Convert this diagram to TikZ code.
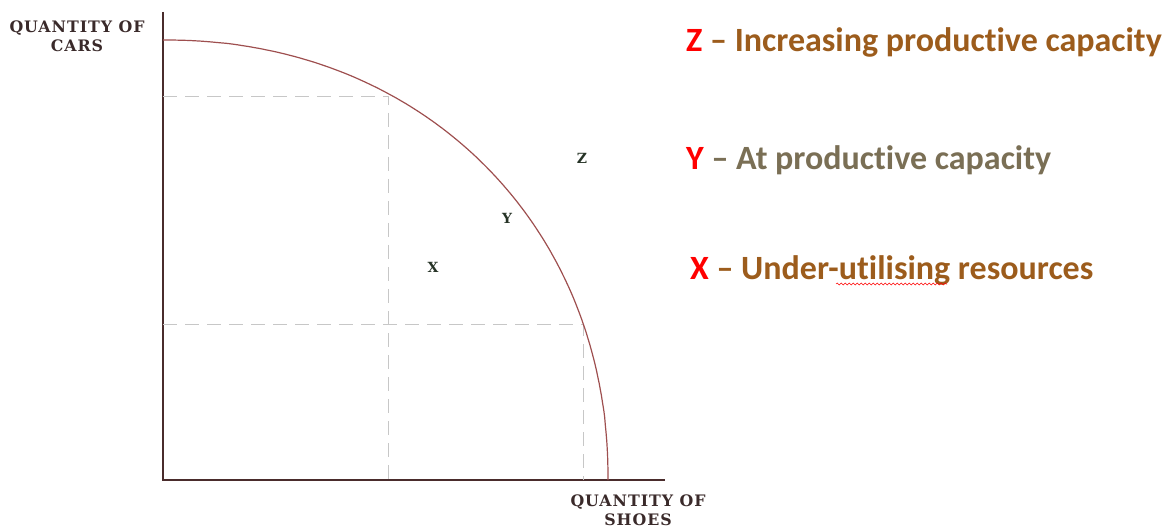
\documentclass[tikz,border=0pt]{standalone}
\usepackage{fontspec}
\newfontfamily\calibri[RawFeature={-liga}]{Carlito}
\newfontfamily\axfont[LetterSpace=6]{DejaVu Serif}
\usetikzlibrary{decorations.pathmorphing}
\definecolor{axiscol}{HTML}{4A2C2C}
\definecolor{curvecol}{HTML}{9E4F4F}
\definecolor{brownt}{HTML}{9C5C1C}
\definecolor{greyt}{HTML}{7A6F55}
\definecolor{redt}{HTML}{FF0000}
\definecolor{lbl}{HTML}{3A2A2A}
\definecolor{ptcol}{HTML}{263326}
\begin{document}
\begin{tikzpicture}[x=1pt,y=-1pt,
  axis/.style={draw=axiscol,line width=1.8pt},
  ppf/.style={draw=curvecol,line width=1.2pt},
  guide/.style={draw=black!22,line width=0.9pt,dash pattern=on 14pt off 8pt},
  axlabel/.style={font=\axfont\fontsize{15.8}{19}\selectfont\bfseries,text=lbl,align=center,inner sep=0pt},
  ptlabel/.style={font=\axfont\fontsize{14}{16}\selectfont\bfseries,text=ptcol,inner sep=0pt},
  keytext/.style={font=\calibri\fontsize{34}{40}\selectfont\bfseries,anchor=base west,inner sep=0pt}]
\useasboundingbox (0,0) rectangle (1174,529);
% axes
\coordinate (O) at (163,480);
\coordinate (ytop) at (163,12);
\coordinate (xend) at (665,480);
\draw[axis] (ytop) -- (O) -- (xend);
% guide lines
\coordinate (A) at (388,96);
\coordinate (Ax) at (388,480);
\coordinate (Ay) at (163,96);
\coordinate (B) at (583,324);
\coordinate (Bx) at (583,480);
\coordinate (By) at (163,324);
\draw[guide] (Ay) -- (A) -- (Ax);
\draw[guide] (By) -- (B) -- (Bx);
% PPF curve (superellipse)
\coordinate (ctop) at (163,40);
\coordinate (cbot) at (608,480);
\draw[ppf] (ctop) -- plot[domain=89.5:0.5,samples=120,smooth]
  ({163+445*pow(cos(\x),0.952)},{480-440*pow(sin(\x),0.952)}) -- (cbot);
% axis labels
\node[axlabel] (ylab) at (77,36) {QUANTITY OF\\CARS};
\node[axlabel] (xlab) at (638,510) {QUANTITY OF\\SHOES};
% point labels
\node[ptlabel] (Z) at (582,158) {Z};
\node[ptlabel] (Y) at (507,218) {Y};
\node[ptlabel] (X) at (433,267) {X};
% key
\node[keytext] (kz) at (686,52) {\textcolor{redt}{Z} \textcolor{brownt}{– Increasing productive capacity}};
\node[keytext] (ky) at (686,170) {\textcolor{redt}{Y} \textcolor{greyt}{– At productive capacity}};
\node[keytext] (kx) at (690,279) {\textcolor{redt}{X} \textcolor{brownt}{– Under-utilising resources}};
\coordinate (w1) at (836,284);
\coordinate (w2) at (947,284);
\draw[redt,line width=0.5pt,decorate,decoration={snake,amplitude=1pt,segment length=4pt}] (w1) -- (w2);
\end{tikzpicture}
\end{document}
